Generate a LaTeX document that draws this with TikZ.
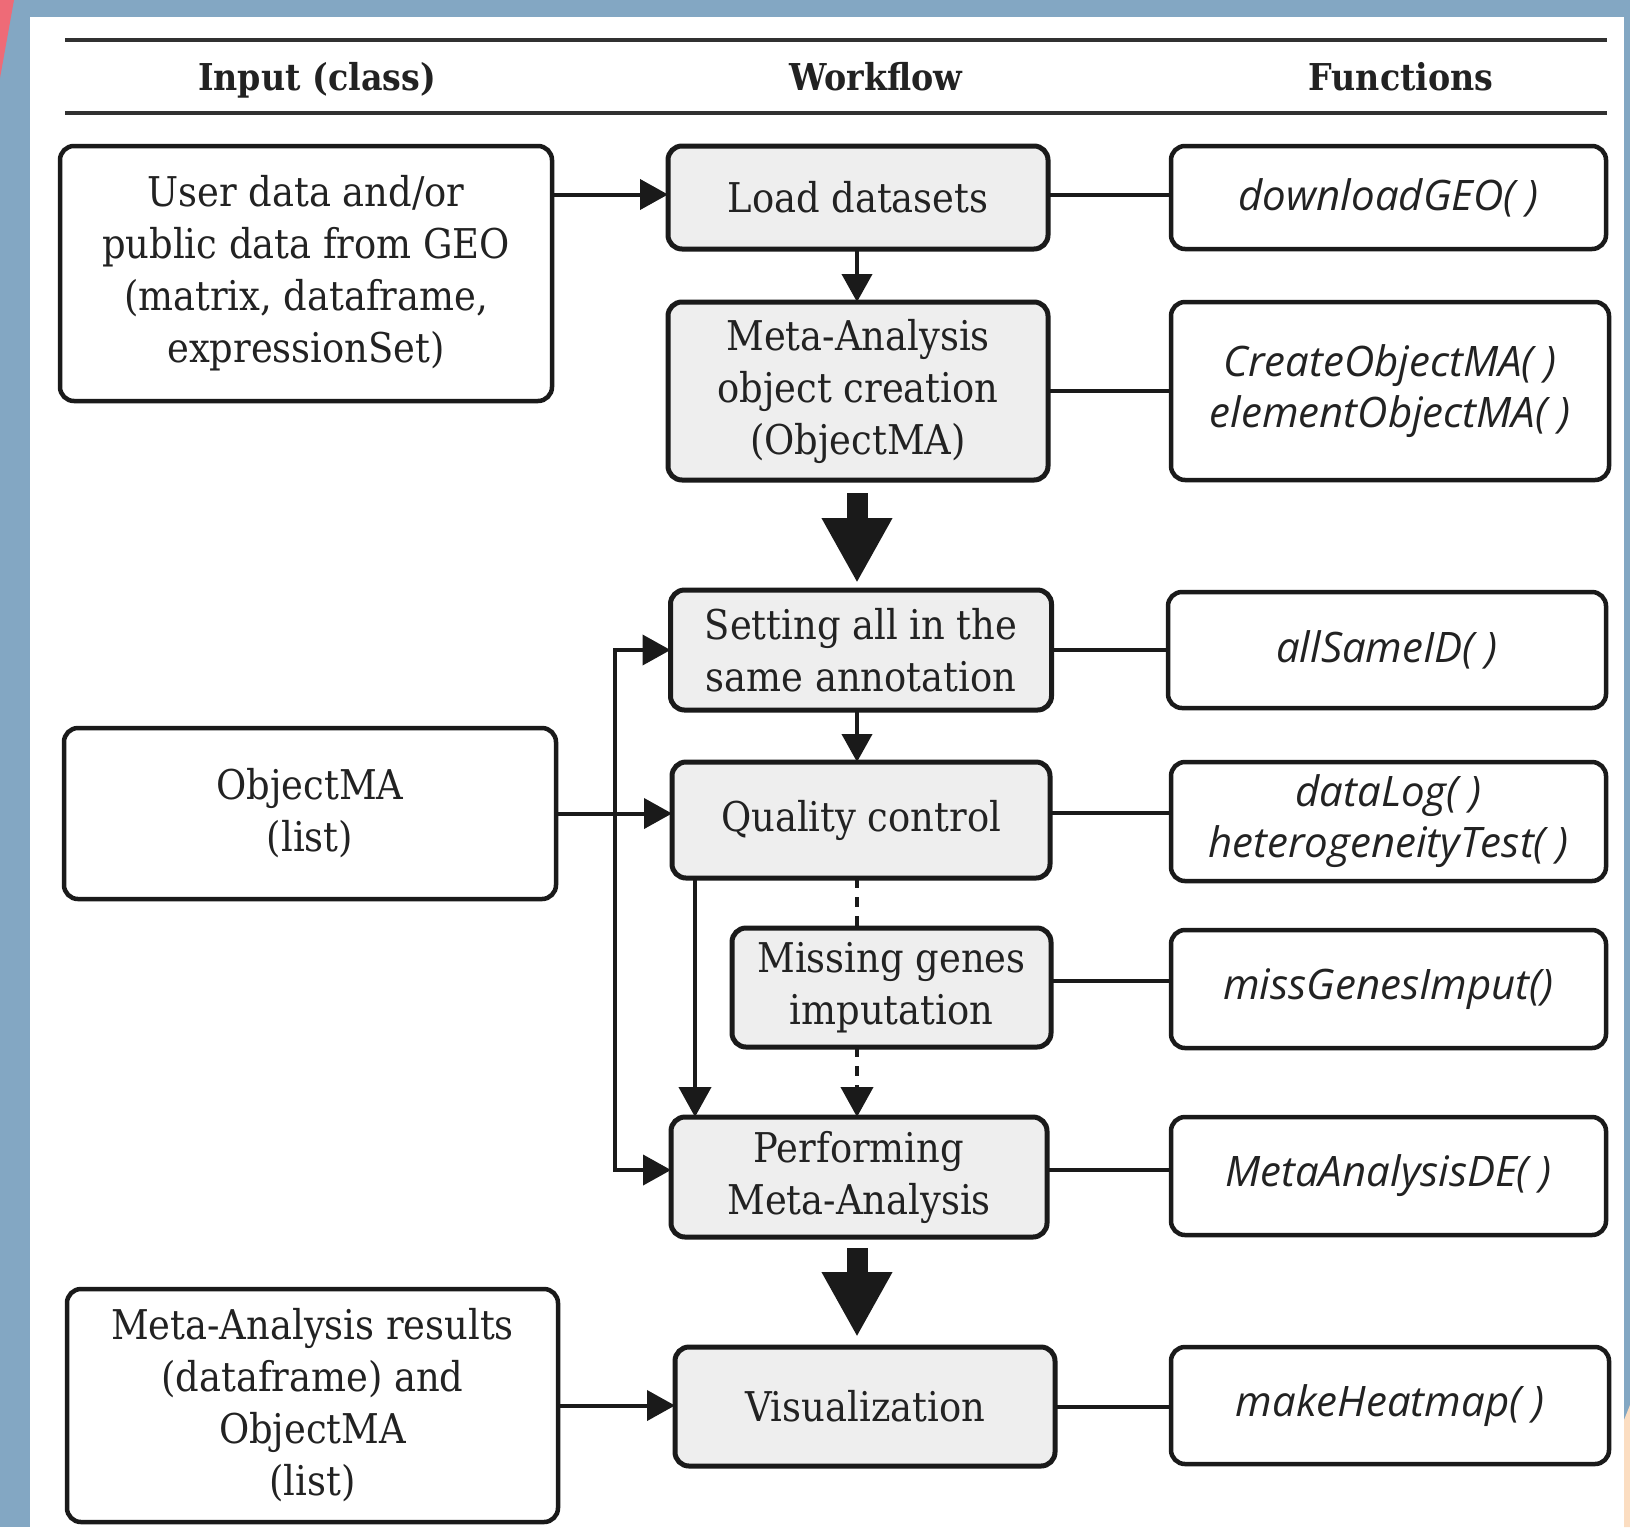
\documentclass[tikz,border=0pt]{standalone}
\usepackage{fontspec}
\setmainfont{DejaVu Serif Condensed}
\newfontfamily\fnfam{Open Sans}
\usetikzlibrary{arrows.meta,calc}
\definecolor{bgblue}{HTML}{83A7C3}
\definecolor{redc}{HTML}{EE6B77}
\definecolor{peach}{HTML}{FBDDC1}
\definecolor{wfgray}{HTML}{EEEEEE}
\definecolor{ln}{HTML}{1A1A1A}
\definecolor{txt}{HTML}{222222}
\newcommand\bodyfnt{\fontsize{41pt}{52pt}\selectfont}
\newcommand\fnfnt{\fnfam\itshape\fontsize{42pt}{51pt}\selectfont}
\newcommand\hdfnt{\bfseries\fontsize{37pt}{44pt}\selectfont}
\begin{document}
\begin{tikzpicture}[x=1pt,y=-1pt,
  every node/.style={inner sep=0pt, outer sep=0pt, align=center, text=txt},
  inbox/.style={draw=ln, line width=4.5pt, rounded corners=14pt, fill=white, font=\bodyfnt},
  wfbox/.style={inbox, fill=wfgray, line width=5pt},
  fnbox/.style={draw=ln, line width=4.5pt, rounded corners=14pt, fill=white, font=\fnfnt},
  hdr/.style={font=\hdfnt, anchor=base},
  conn/.style={draw=ln, line width=4pt},
  arr/.style={conn, -{Triangle[length=28pt,width=30pt]}},
  bigarr/.style={draw=ln, line width=21pt, -{Triangle[length=65pt,width=66pt]}},
  dotc/.style={conn, dash pattern=on 10pt off 9pt}
]
% background frame
\fill[bgblue] (0,0) rectangle (1630,1527);
\fill[white] (30,17) rectangle (1624,1527);
\fill[redc] (0,0) -- (14,0) -- (0,78) -- cycle;
\fill[peach] (1630,1405) -- (1624,1420) -- (1624,1527) -- (1630,1527) -- cycle;
\useasboundingbox (0,0) rectangle (1630,1527);

% header
\draw[ln!90, line width=4pt] (65,40) -- (1607,40);
\draw[ln!90, line width=4pt] (65,113) -- (1607,113);
\node[hdr] (h1) at (317,90) {Input (class)};
\node[hdr] (h2) at (876,90) {Workflow};
\node[hdr] (h3) at (1401,90) {Functions};

% input column
\node[inbox, minimum width=492pt, minimum height=255pt] (in1) at (306,273.5)
  {User data and/or\\public data from GEO\\(matrix, dataframe,\\expressionSet)};
\node[inbox, minimum width=492pt, minimum height=171pt] (in2) at (310,813.5)
  {ObjectMA\\(list)};
\node[inbox, minimum width=491pt, minimum height=233pt] (in3) at (312.5,1405.5)
  {Meta-Analysis results\\(dataframe) and\\ObjectMA\\(list)};

% workflow column
\node[wfbox, minimum width=380pt, minimum height=103pt] (wf1) at (858,197.5) {Load datasets};
\node[wfbox, minimum width=380pt, minimum height=178pt] (wf2) at (858,391)
  {Meta-Analysis\\object creation\\(ObjectMA)};
\node[wfbox, minimum width=381pt, minimum height=120pt] (wf3) at (861,650)
  {Setting all in the\\same annotation};
\node[wfbox, minimum width=378pt, minimum height=116pt] (wf4) at (861,820) {Quality control};
\node[wfbox, minimum width=319pt, minimum height=119pt] (wf5) at (891.5,987.5)
  {Missing genes\\imputation};
\node[wfbox, minimum width=376pt, minimum height=120pt] (wf6) at (859,1177)
  {Performing\\Meta-Analysis};
\node[wfbox, minimum width=380pt, minimum height=119pt] (wf7) at (865,1406.5) {Visualization};

% function column
\node[fnbox, minimum width=435pt, minimum height=103pt] (fn1) at (1388.5,197.5) {downloadGEO(\ )};
\node[fnbox, minimum width=438pt, minimum height=178pt] (fn2) at (1390,391)
  {CreateObjectMA(\ )\\elementObjectMA(\ )};
\node[fnbox, minimum width=438pt, minimum height=116pt] (fn3) at (1387,650) {allSameID(\ )};
\node[fnbox, minimum width=435pt, minimum height=119pt] (fn4) at (1388.5,821.5)
  {dataLog(\ )\\heterogeneityTest(\ )};
\node[fnbox, minimum width=435pt, minimum height=118pt] (fn5) at (1388.5,989) {missGenesImput()};
\node[fnbox, minimum width=435pt, minimum height=118pt] (fn6) at (1388.5,1176) {MetaAnalysisDE(\ )};
\node[fnbox, minimum width=438pt, minimum height=117pt] (fn7) at (1390,1405.5) {makeHeatmap(\ )};

% helper coordinates
\coordinate (spine) at (857,0);
\coordinate (branch) at (615,813.5);
\coordinate (qcx) at ($(wf4.south west)+(23,0)$);

% workflow -> functions
\draw[conn] ([yshift=3pt]wf1.east) -- ([yshift=3pt]wf1.east -| fn1.west);
\draw[conn] (wf2.east) -- (wf2.east -| fn2.west);
\draw[conn] (wf3.east) -- (wf3.east -| fn3.west);
\draw[conn] ([yshift=7pt]wf4.east) -- ([yshift=7pt]wf4.east -| fn4.west);
\draw[conn] ([yshift=7pt]wf5.east) -- ([yshift=7pt]wf5.east -| fn5.west);
\draw[conn] ([yshift=7pt]wf6.east) -- ([yshift=7pt]wf6.east -| fn6.west);
\draw[conn] (wf7.east) -- (wf7.east -| fn7.west);

% inputs -> workflow
\draw[arr] ([yshift=3pt]wf1.west -| in1.east) -- ([yshift=3pt]wf1.west);
\draw[arr] (in2.east) -- (in2.east -| wf4.west);
\draw[arr] (branch) |- (wf3.west);
\draw[arr] (branch) |- ([yshift=7pt]wf6.west);
\draw[arr] (in3.east) -- (in3.east -| wf7.west);

% workflow arrows
\draw[arr] (wf1.south -| spine) -- (wf2.north -| spine);
\draw[bigarr] ([yshift=-13pt]wf2.south -| spine) -- ([yshift=7pt]wf3.north -| spine);
\draw[arr] (wf3.south -| spine) -- (wf4.north -| spine);
\draw[dotc] (wf4.south -| spine) -- (wf5.north -| spine);
\draw[dotc, -{Triangle[length=30pt,width=32pt]}] (wf5.south -| spine) -- (wf6.north -| spine);
\draw[arr, -{Triangle[length=30pt,width=32pt]}] (qcx) -- (qcx |- wf6.north);
\draw[bigarr] ([yshift=-11pt]wf6.south -| spine) -- ([yshift=10pt]wf7.north -| spine);
\end{tikzpicture}
\end{document}
